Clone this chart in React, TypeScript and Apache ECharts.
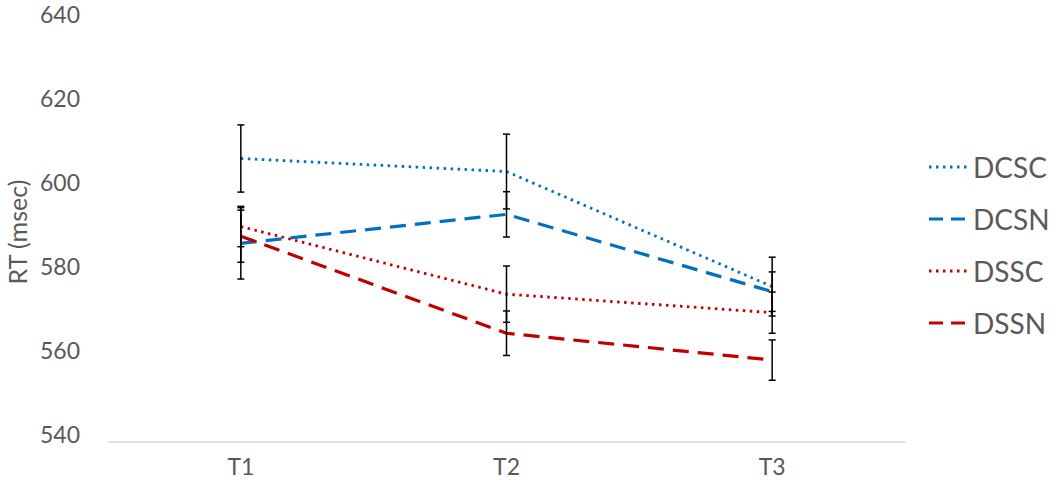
import React, { useEffect, useRef } from "react";
import * as echarts from "echarts";

const categories = ["T1", "T2", "T3"];
const seriesNames = ["DCSC", "DCSN", "DSSC", "DSSN"];
const dcsc = [607.5, 604.4, 577];
const dcsn = [587.3, 594.2, 575.8];
const dssc = [591.3, 575.2, 570.8];
const dssn = [589.0, 565.9, 559.5];
const dcscErr = [8, 8.9, 7];
const dcsnErr = [8.5, 5.4, 4.7];
const dsscErr = [4.8, 6.7, 4.9];
const dssnErr = [6.2, 5.3, 4.8];
const yTicks = [540, 560, 580, 600, 620, 640];

const BLUE = "#0070C0";
const RED = "#C00000";
const FONT = "Lato, 'Open Sans', sans-serif";

export default function App() {
  const ref = useRef<HTMLDivElement>(null);
  useEffect(() => {
    if (!ref.current) return;
    const chart = echarts.init(ref.current, null, { renderer: "svg" });
    const means = [dcsc, dcsn, dssc, dssn];
    const errs = [dcscErr, dcsnErr, dsscErr, dssnErr];
    const colors = [BLUE, BLUE, RED, RED];
    const styles: any[] = [[2.5, 4.5], [16, 9], [2.5, 4.5], [16, 9]];
    const widths = [2.8, 3.2, 2.8, 3.2];

    const errData: number[][] = [];
    means.forEach((m, s) => {
      m.forEach((v, i) => {
        errData.push([i, v - errs[s][i], v + errs[s][i]]);
      });
    });

    const lineSeries = seriesNames.map((name, s) => ({
      name,
      type: "line",
      data: means[s],
      symbol: "none",
      color: colors[s],
      lineStyle: { color: colors[s], width: widths[s], type: styles[s], cap: "butt" },
      z: 2,
    }));

    const legendTop = 167;
    const legendStep = 52;
    const legendGraphics: any[] = [];
    seriesNames.forEach((name, s) => {
      const y = legendTop + s * legendStep;
      legendGraphics.push({
        type: "line",
        shape: { x1: 929, y1: y, x2: 968, y2: y },
        style: { stroke: colors[s], lineWidth: widths[s], lineDash: s % 2 === 0 ? [2.5, 4.5] : [14, 8] },
      });
      legendGraphics.push({
        type: "text",
        x: 973,
        y,
        style: {
          text: name,
          fontSize: 28,
          fontFamily: FONT,
          fill: "#595959",
          verticalAlign: "middle",
          align: "left",
        },
      });
    });

    chart.setOption({
      animation: false,
      grid: { left: 108, right: 147, top: 22, bottom: 51, outerBoundsMode: "none", containLabel: false },
      graphic: legendGraphics,
      xAxis: {
        type: "category",
        data: categories,
        boundaryGap: true,
        axisLine: { lineStyle: { color: "#D9D9D9", width: 1.5 } },
        axisTick: { show: false },
        axisLabel: { fontSize: 23, color: "#595959", fontFamily: FONT, margin: 12 },
      },
      yAxis: {
        type: "value",
        min: yTicks[0],
        max: yTicks[yTicks.length - 1],
        interval: 20,
        name: "RT (msec)",
        nameLocation: "middle",
        nameRotate: 90,
        nameGap: 77,
        nameTextStyle: { fontSize: 25, color: "#595959", fontFamily: FONT },
        axisLine: { show: false },
        axisTick: { show: false },
        splitLine: { show: false },
        axisLabel: {
          fontSize: 23,
          color: "#595959",
          fontFamily: FONT,
          margin: 28,
          verticalAlign: "bottom",
          lineHeight: 16,
        },
      },
      series: [
        ...lineSeries,
        {
          type: "custom",
          name: "err",
          data: errData,
          z: 3,
          silent: true,
          renderItem: (params: any, api: any) => {
            const x = api.value(0);
            const lo = api.coord([x, api.value(1)]);
            const hi = api.coord([x, api.value(2)]);
            const cw = 3.5;
            const style = { stroke: "#000", lineWidth: 1.5 };
            return {
              type: "group",
              children: [
                { type: "line", shape: { x1: lo[0], y1: lo[1], x2: hi[0], y2: hi[1] }, style },
                { type: "line", shape: { x1: lo[0] - cw, y1: lo[1], x2: lo[0] + cw, y2: lo[1] }, style },
                { type: "line", shape: { x1: hi[0] - cw, y1: hi[1], x2: hi[0] + cw, y2: hi[1] }, style },
              ],
            };
          },
        },
      ],
    });
    return () => chart.dispose();
  }, []);
  return (
    <div
      ref={ref}
      style={{ position: "absolute", left: 0, top: 0, width: 1052, height: 493, background: "#fff" }}
    />
  );
}
